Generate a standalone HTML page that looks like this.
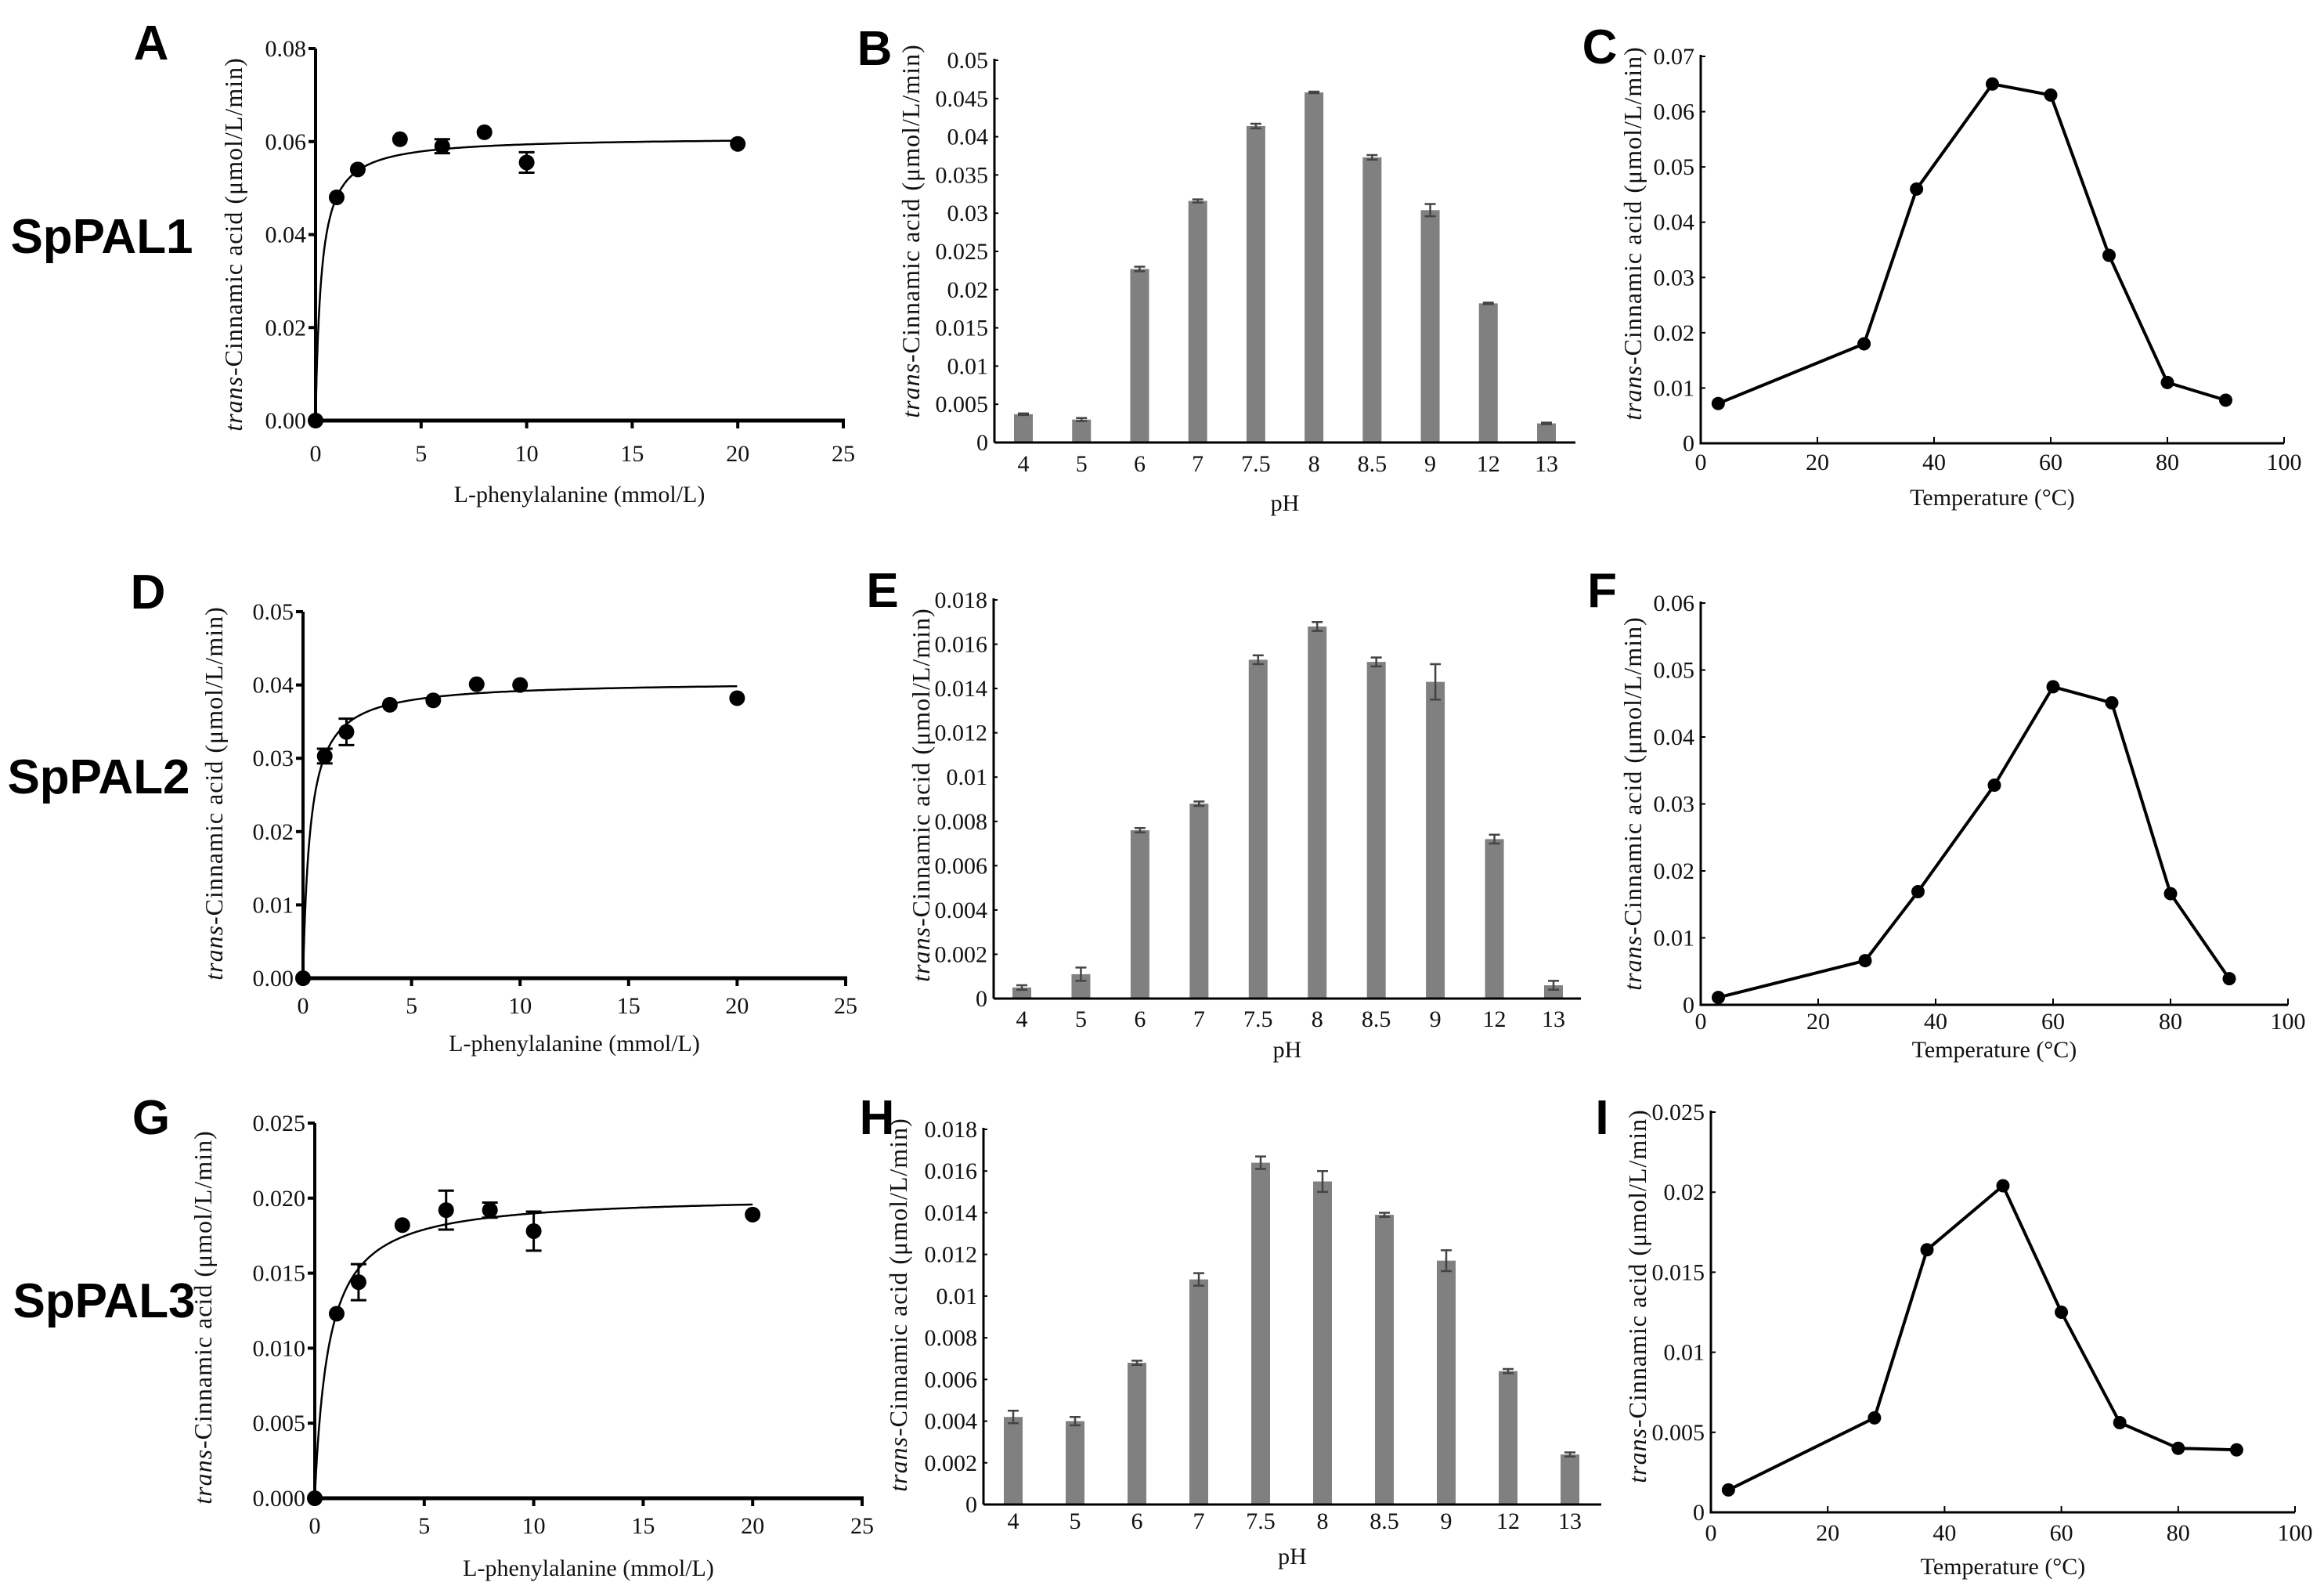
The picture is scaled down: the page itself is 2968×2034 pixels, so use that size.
<!DOCTYPE html>
<html>
<head>
<meta charset="utf-8">
<style>
html,body{margin:0;padding:0;background:#fff;}
svg{display:block;}
.tick{font-family:"Liberation Serif",serif;font-size:30px;fill:#111;}
.ttl{font-family:"Liberation Serif",serif;font-size:30px;fill:#111;}
.yttl{font-family:"Liberation Serif",serif;font-size:32px;letter-spacing:1px;fill:#111;}
.plab{font-family:"Liberation Sans",sans-serif;font-weight:bold;font-size:62px;fill:#000;}
</style>
</head>
<body>
<svg id="fig" width="2968" height="2034" viewBox="0 0 2968 2034" xmlns="http://www.w3.org/2000/svg">
<text class="plab" x="130" y="323" text-anchor="middle">SpPAL1</text>
<text class="plab" x="126" y="1013" text-anchor="middle">SpPAL2</text>
<text class="plab" x="133" y="1682" text-anchor="middle">SpPAL3</text>
</svg>
<script>
// ---------- DATA ----------
const kinX = [0, 1, 2, 4, 6, 8, 10, 20];
const kinA = [0, 0.048, 0.054, 0.0605, 0.059, 0.062, 0.0555, 0.0595];
const kinAErr = [0, 0, 0, 0, 0.0015, 0, 0.0022, 0];
const kinD = [0, 0.0303, 0.0336, 0.0373, 0.0379, 0.0401, 0.0400, 0.0382];
const kinDErr = [0, 0.001, 0.0018, 0, 0, 0, 0, 0];
const kinG = [0, 0.0123, 0.0144, 0.0182, 0.0192, 0.0192, 0.0178, 0.0189];
const kinGErr = [0, 0, 0.0012, 0, 0.0013, 0.0005, 0.0013, 0];
const fitA = [0.061, 0.27];   // Vmax, Km
const fitD = [0.0405, 0.337];
const fitG = [0.0202, 0.64];
const kinXTicks = [0, 5, 10, 15, 20, 25];
const kinATicks = ["0.00", "0.02", "0.04", "0.06", "0.08"];
const kinDTicks = ["0.00", "0.01", "0.02", "0.03", "0.04", "0.05"];
const kinGTicks = ["0.000", "0.005", "0.010", "0.015", "0.020", "0.025"];

const phCats = ["4", "5", "6", "7", "7.5", "8", "8.5", "9", "12", "13"];
const phB = [0.0037, 0.0030, 0.0227, 0.0316, 0.0414, 0.0458, 0.0373, 0.0304, 0.0182, 0.0025];
const phBErr = [0.0001, 0.0002, 0.0003, 0.0002, 0.0003, 0.0001, 0.0003, 0.0008, 0.0001, 0.0001];
const phE = [0.0005, 0.0011, 0.0076, 0.0088, 0.0153, 0.0168, 0.0152, 0.0143, 0.0072, 0.0006];
const phEErr = [0.0001, 0.0003, 0.0001, 0.0001, 0.0002, 0.0002, 0.0002, 0.0008, 0.0002, 0.0002];
const phH = [0.0042, 0.0040, 0.0068, 0.0108, 0.0164, 0.0155, 0.0139, 0.0117, 0.0064, 0.0024];
const phHErr = [0.0003, 0.0002, 0.0001, 0.0003, 0.0003, 0.0005, 0.0001, 0.0005, 0.0001, 0.0001];
const phBTicks = ["0", "0.005", "0.01", "0.015", "0.02", "0.025", "0.03", "0.035", "0.04", "0.045", "0.05"];
const phETicks = ["0", "0.002", "0.004", "0.006", "0.008", "0.01", "0.012", "0.014", "0.016", "0.018"];

const tempX = [3, 28, 37, 50, 60, 70, 80, 90];
const tempC = [0.0072, 0.018, 0.046, 0.065, 0.063, 0.034, 0.011, 0.0078];
const tempF = [0.0011, 0.0066, 0.0169, 0.0328, 0.0475, 0.0451, 0.0166, 0.0039];
const tempI = [0.0014, 0.0059, 0.0164, 0.0204, 0.0125, 0.0056, 0.0040, 0.0039];
const tempXTicks = [0, 20, 40, 60, 80, 100];
const tempCTicks = ["0", "0.01", "0.02", "0.03", "0.04", "0.05", "0.06", "0.07"];
const tempFTicks = ["0", "0.01", "0.02", "0.03", "0.04", "0.05", "0.06"];
const tempITicks = ["0", "0.005", "0.01", "0.015", "0.02", "0.025"];

// ---------- HELPERS ----------
const NS = "http://www.w3.org/2000/svg";
const svg = document.getElementById("fig");
function mk(tag, attrs, parent) {
  const e = document.createElementNS(NS, tag);
  for (const k in attrs) e.setAttribute(k, attrs[k]);
  (parent || svg).appendChild(e);
  return e;
}
function txt(s, attrs, parent) { const t = mk("text", attrs, parent); t.textContent = s; return t; }
function yTitle(g, cx, cy) {
  const t = mk("text", {class: "yttl", x: 0, y: 0, "text-anchor": "middle", transform: `translate(${cx},${cy}) rotate(-90)`}, g);
  
  
  const it = mk("tspan", {"font-style": "italic"}, t); it.textContent = "trans";
  const r = mk("tspan", {}, t); r.textContent = "-Cinnamic acid (\u03bcmol/L/min)";
}
function panelLetter(g, s, x, y) {
  const t = txt(s, {class: "plab", x: x, y: y + 22, "text-anchor": "middle", "font-size": "60"}, g);
  
  
}

// ---------- KINETICS PANEL ----------
function kinetics(cfg) {
  const g = mk("g", {});
  
  
  const ymax = parseFloat(cfg.yTicks[cfg.yTicks.length - 1]);
  const sx = v => cfg.x0 + (v / 25) * (cfg.x1 - cfg.x0);
  const sy = v => cfg.y0 - (v / ymax) * (cfg.y0 - cfg.yt);
  const ya = mk("line", {x1: cfg.x0, y1: cfg.yt, x2: cfg.x0, y2: cfg.y0, stroke: "#000", "stroke-width": 4}, g);
   
  const xa = mk("line", {x1: cfg.x0 - 2, y1: cfg.y0, x2: cfg.x1 + 2, y2: cfg.y0, stroke: "#000", "stroke-width": 5}, g);
   
  cfg.yTicks.forEach(l => {
    const y = sy(parseFloat(l));
    mk("line", {x1: cfg.x0 - 9, y1: y, x2: cfg.x0, y2: y, stroke: "#000", "stroke-width": 4}, g);
    const t = txt(l, {class: "tick", x: cfg.x0 - 12, y: y + 10, "text-anchor": "end"}, g);
     
  });
  kinXTicks.forEach(v => {
    const x = sx(v);
    mk("line", {x1: x, y1: cfg.y0, x2: x, y2: cfg.y0 + 10, stroke: "#000", "stroke-width": 4}, g);
    const t = txt(String(v), {class: "tick", x: x, y: cfg.tl + 10, "text-anchor": "middle"}, g);
     
  });
  const xt = txt("L-phenylalanine (mmol/L)", {class: "ttl", x: (cfg.x0 + cfg.x1) / 2, y: cfg.tt + 10, "text-anchor": "middle"}, g);
   
  yTitle(g, cfg.ytx, cfg.yty);
  let d = "";
  for (let i = 0; i <= 400; i++) {
    const xv = 20 * Math.pow(i / 400, 2);
    const yv = cfg.fit[0] * xv / (cfg.fit[1] + xv);
    d += (i ? "L" : "M") + sx(xv).toFixed(1) + "," + sy(yv).toFixed(1);
  }
  const c = mk("path", {d: d, fill: "none", stroke: "#000", "stroke-width": 2.5}, g);
   
  cfg.ys.forEach((v, i) => {
    const x = sx(kinX[i]), y = sy(v), e = cfg.err[i];
    if (e > 0) {
      const eb = mk("path", {d: `M${x},${sy(v - e)}L${x},${sy(v + e)}M${x - 10},${sy(v - e)}L${x + 10},${sy(v - e)}M${x - 10},${sy(v + e)}L${x + 10},${sy(v + e)}`, stroke: "#000", "stroke-width": 3, fill: "none"}, g);
       
    }
    const p = mk("circle", {cx: x, cy: y, r: 10, fill: "#000"}, g);
     
  });
  panelLetter(g, cfg.letter, cfg.lx, cfg.ly);
}

// ---------- BAR PANEL ----------
function bars(cfg) {
  const g = mk("g", {});
  
  
  const ymax = parseFloat(cfg.yTicks[cfg.yTicks.length - 1]);
  const sy = v => cfg.y0 - (v / ymax) * (cfg.y0 - cfg.yt);
  const n = phCats.length;
  const bx = i => cfg.b0 + i * (cfg.b1 - cfg.b0) / (n - 1);
  cfg.vals.forEach((v, i) => {
    const x = bx(i);
    const r = mk("rect", {x: x - 12, y: sy(v), width: 24, height: cfg.y0 - sy(v), fill: "#808080"}, g);
     
    const e = cfg.err[i];
    const eb = mk("path", {d: `M${x},${sy(v - e)}L${x},${sy(v + e)}M${x - 7},${sy(v - e)}L${x + 7},${sy(v - e)}M${x - 7},${sy(v + e)}L${x + 7},${sy(v + e)}`, stroke: "#444", "stroke-width": 2.5, fill: "none"}, g);
     
    const t = txt(phCats[i], {class: "tick", x: x, y: cfg.tl + 10, "text-anchor": "middle"}, g);
     
  });
  const ya = mk("line", {x1: cfg.x0, y1: cfg.yt - 2, x2: cfg.x0, y2: cfg.y0, stroke: "#000", "stroke-width": 3}, g);
   
  const xa = mk("line", {x1: cfg.x0, y1: cfg.y0, x2: cfg.x1, y2: cfg.y0, stroke: "#000", "stroke-width": 3}, g);
   
  cfg.yTicks.forEach(l => {
    const y = sy(parseFloat(l));
    mk("line", {x1: cfg.x0, y1: y, x2: cfg.x0 + 5, y2: y, stroke: "#000", "stroke-width": 2}, g);
    const t = txt(l, {class: "tick", x: cfg.x0 - 8, y: y + 10, "text-anchor": "end"}, g);
     
  });
  const xt = txt("pH", {class: "ttl", x: (cfg.x0 + cfg.x1) / 2, y: cfg.tt + 10, "text-anchor": "middle"}, g);
   
  yTitle(g, cfg.ytx, cfg.yty);
  panelLetter(g, cfg.letter, cfg.lx, cfg.ly);
}

// ---------- LINE PANEL ----------
function lines(cfg) {
  const g = mk("g", {});
  
  
  const ymax = parseFloat(cfg.yTicks[cfg.yTicks.length - 1]);
  const sx = v => cfg.x0 + (v / 100) * (cfg.x1 - cfg.x0);
  const sy = v => cfg.y0 - (v / ymax) * (cfg.y0 - cfg.yt);
  const ya = mk("line", {x1: cfg.x0, y1: cfg.yt - 2, x2: cfg.x0, y2: cfg.y0 + 1.5, stroke: "#000", "stroke-width": 3}, g);
   
  const xa = mk("line", {x1: cfg.x0 - 1.5, y1: cfg.y0, x2: cfg.x1, y2: cfg.y0, stroke: "#000", "stroke-width": 3}, g);
   
  cfg.yTicks.forEach(l => {
    const y = sy(parseFloat(l));
    mk("line", {x1: cfg.x0, y1: y, x2: cfg.x0 + 6, y2: y, stroke: "#000", "stroke-width": 2}, g);
    const t = txt(l, {class: "tick", x: cfg.x0 - 8, y: y + 10, "text-anchor": "end"}, g);
     
  });
  tempXTicks.forEach(v => {
    const x = sx(v);
    mk("line", {x1: x, y1: cfg.y0, x2: x, y2: cfg.y0 - 8, stroke: "#000", "stroke-width": 2}, g);
    const t = txt(String(v), {class: "tick", x: x, y: cfg.tl + 10, "text-anchor": "middle"}, g);
     
  });
  const xt = txt("Temperature (\u00b0C)", {class: "ttl", x: (cfg.x0 + cfg.x1) / 2, y: cfg.tt + 10, "text-anchor": "middle"}, g);
   
  yTitle(g, cfg.ytx, cfg.yty);
  const pts = cfg.vals.map((v, i) => sx(tempX[i]).toFixed(1) + "," + sy(v).toFixed(1)).join(" ");
  const pl = mk("polyline", {points: pts, fill: "none", stroke: "#000", "stroke-width": 4, "stroke-linejoin": "round"}, g);
   
  cfg.vals.forEach((v, i) => {
    const p = mk("circle", {cx: sx(tempX[i]), cy: sy(v), r: 8.5, fill: "#000"}, g);
     
  });
  panelLetter(g, cfg.letter, cfg.lx, cfg.ly);
}

// ---------- BUILD ----------
kinetics({name: "panel-a", letter: "A", lx: 193, ly: 54, x0: 403, x1: 1077, yt: 62, y0: 537, tl: 579, tt: 631, ytx: 309, yty: 312, yTicks: kinATicks, ys: kinA, err: kinAErr, fit: fitA});
kinetics({name: "panel-d", letter: "D", lx: 189, ly: 755, x0: 387, x1: 1080, yt: 781, y0: 1249, tl: 1284, tt: 1332, ytx: 284, yty: 1013, yTicks: kinDTicks, ys: kinD, err: kinDErr, fit: fitD});
kinetics({name: "panel-g", letter: "G", lx: 193, ly: 1426, x0: 402, x1: 1101, yt: 1434, y0: 1913, tl: 1948, tt: 2002, ytx: 270, yty: 1682, yTicks: kinGTicks, ys: kinG, err: kinGErr, fit: fitG});

bars({name: "panel-b", letter: "B", lx: 1117, ly: 61, x0: 1270, x1: 2012, yt: 77, y0: 565, b0: 1307, b1: 1975, tl: 592, tt: 642, ytx: 1174, yty: 295, yTicks: phBTicks, vals: phB, err: phBErr});
bars({name: "panel-e", letter: "E", lx: 1127, ly: 753, x0: 1269, x1: 2019, yt: 766, y0: 1275, b0: 1305, b1: 1984, tl: 1301, tt: 1340, ytx: 1187, yty: 1015, yTicks: phETicks, vals: phE, err: phEErr});
bars({name: "panel-h", letter: "H", lx: 1120, ly: 1426, x0: 1256, x1: 2045, yt: 1442, y0: 1921, b0: 1294, b1: 2005, tl: 1942, tt: 1987, ytx: 1158, yty: 1666, yTicks: phETicks, vals: phH, err: phHErr});

lines({name: "panel-c", letter: "C", lx: 2043, ly: 59, x0: 2172, x1: 2917, yt: 72, y0: 566, tl: 590, tt: 635, ytx: 2096, yty: 298, yTicks: tempCTicks, vals: tempC});
lines({name: "panel-f", letter: "F", lx: 2046, ly: 753, x0: 2172, x1: 2922, yt: 770, y0: 1283, tl: 1304, tt: 1340, ytx: 2096, yty: 1026, yTicks: tempFTicks, vals: tempF});
lines({name: "panel-i", letter: "I", lx: 2046, ly: 1426, x0: 2185, x1: 2931, yt: 1420, y0: 1931, tl: 1957, tt: 2000, ytx: 2102, yty: 1655, yTicks: tempITicks, vals: tempI});
</script>
</body>
</html>
